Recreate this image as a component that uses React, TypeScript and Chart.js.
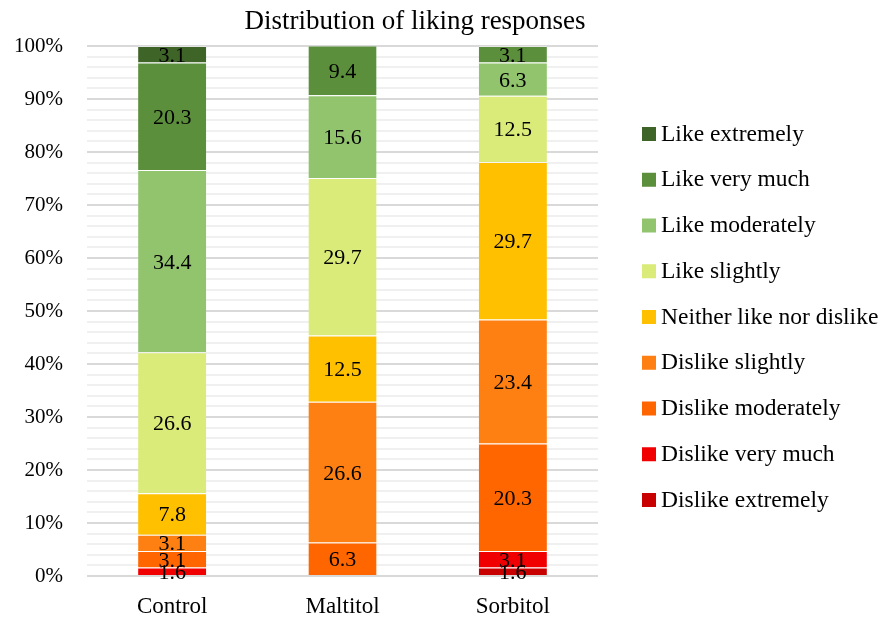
import React, { useEffect, useRef } from "react";
import { Chart, registerables } from "chart.js";

Chart.register(...registerables);

const title = "Distribution of liking responses";
const categories = ["Control", "Maltitol", "Sorbitol"];
const seriesNames = [
  "Dislike extremely",
  "Dislike very much",
  "Dislike moderately",
  "Dislike slightly",
  "Neither like nor dislike",
  "Like slightly",
  "Like moderately",
  "Like very much",
  "Like extremely",
];
const dislikeExtremely = [0, 0, 1.6];
const dislikeVeryMuch = [1.6, 0, 3.1];
const dislikeModerately = [3.1, 6.3, 20.3];
const dislikeSlightly = [3.1, 26.6, 23.4];
const neitherLikeNorDislike = [7.8, 12.5, 29.7];
const likeSlightly = [26.6, 29.7, 12.5];
const likeModerately = [34.4, 15.6, 6.3];
const likeVeryMuch = [20.3, 9.4, 3.1];
const likeExtremely = [3.1, 0, 0];
const seriesValues = [
  dislikeExtremely,
  dislikeVeryMuch,
  dislikeModerately,
  dislikeSlightly,
  neitherLikeNorDislike,
  likeSlightly,
  likeModerately,
  likeVeryMuch,
  likeExtremely,
];
const seriesColors = [
  "#C80000",
  "#F00000",
  "#FF6600",
  "#FF8012",
  "#FFC000",
  "#DAEB7A",
  "#92C46E",
  "#5B8F3C",
  "#3F6428",
];
const yMin = 0;
const yMax = 100;
const yMinorStep = 2;
const yMajorStep = 10;

const FONT = "'Liberation Serif', 'Times New Roman', serif";

export default function App() {
  const ref = useRef<HTMLCanvasElement | null>(null);

  useEffect(() => {
    if (!ref.current) return;

    const labelPlugin = {
      id: "segLabels",
      afterDatasetsDraw(chart: any) {
        const ctx = chart.ctx;
        ctx.save();
        ctx.font = `22px ${FONT}`;
        ctx.fillStyle = "#000";
        ctx.textAlign = "center";
        ctx.textBaseline = "alphabetic";
        chart.data.datasets.forEach((ds: any, di: number) => {
          const meta = chart.getDatasetMeta(di);
          meta.data.forEach((el: any, i: number) => {
            const v = ds.data[i];
            if (!v) return;
            const cy = (el.y + el.base) / 2;
            ctx.fillText(v.toFixed(1), el.x, cy + 7.5);
          });
        });
        ctx.restore();
      },
    };

    const titleLegendPlugin = {
      id: "titleLegend",
      afterDraw(chart: any) {
        const ctx = chart.ctx;
        const area = chart.chartArea;
        ctx.save();
        ctx.fillStyle = "#000";
        ctx.font = `27px ${FONT}`;
        ctx.textAlign = "center";
        ctx.textBaseline = "alphabetic";
        ctx.fillText(title, 407, 21);

        ctx.font = `23.5px ${FONT}`;
        ctx.textAlign = "left";
        const n = chart.data.datasets.length;
        const boxX = area.right + 44;
        const firstY = 126;
        const step = 45.75;
        for (let k = 0; k < n; k++) {
          const ds = chart.data.datasets[n - 1 - k];
          const cy = firstY + k * step;
          ctx.fillStyle = ds.backgroundColor;
          ctx.fillRect(boxX, cy - 7, 14, 14);
          ctx.fillStyle = "#000";
          ctx.fillText(ds.label, boxX + 19, cy + 6.5);
        }
        ctx.restore();
      },
    };

    const chart = new Chart(ref.current, {
      type: "bar",
      data: {
        labels: categories,
        datasets: seriesNames.map((name, i) => ({
          label: name,
          data: seriesValues[i],
          backgroundColor: seriesColors[i],
          borderColor: "rgba(255,255,255,0.35)",
          borderWidth: { top: 1, bottom: 0, left: 0, right: 0 },
          borderSkipped: false,
          barPercentage: 0.4,
          categoryPercentage: 1,
        })),
      },
      options: {
        animation: false,
        responsive: true,
        maintainAspectRatio: false,
        layout: { padding: { top: 38, right: 280, left: 0, bottom: 0 } },
        plugins: {
          legend: { display: false },
          title: { display: false },
          tooltip: { enabled: false },
        },
        scales: {
          x: {
            stacked: true,
            grid: { display: false, drawTicks: false },
            border: { display: false },
            ticks: {
              color: "#000",
              font: { family: FONT, size: 23 },
              padding: 17,
            },
            afterFit(scale: any) {
              scale.height = 37;
            },
          },
          y: {
            stacked: true,
            min: yMin,
            max: yMax,
            border: { display: false },
            grid: {
              drawTicks: false,
              lineWidth: 2,
              color: (c: any) =>
                c.tick && c.tick.value % yMajorStep === 0 ? "#D9D9D9" : "#F0F0F0",
            },
            ticks: {
              stepSize: yMinorStep,
              autoSkip: false,
              color: "#000",
              font: { family: FONT, size: 21 },
              padding: 24,
              callback: (v: any) => (Number(v) % yMajorStep === 0 ? `${v}%` : ""),
            },
            afterFit(scale: any) {
              scale.width = 79;
            },
          },
        },
      },
      plugins: [labelPlugin, titleLegendPlugin],
    });

    return () => chart.destroy();
  }, []);

  return (
    <div style={{ position: "relative", width: "100%", height: 605 }}>
      <canvas ref={ref} />
    </div>
  );
}
